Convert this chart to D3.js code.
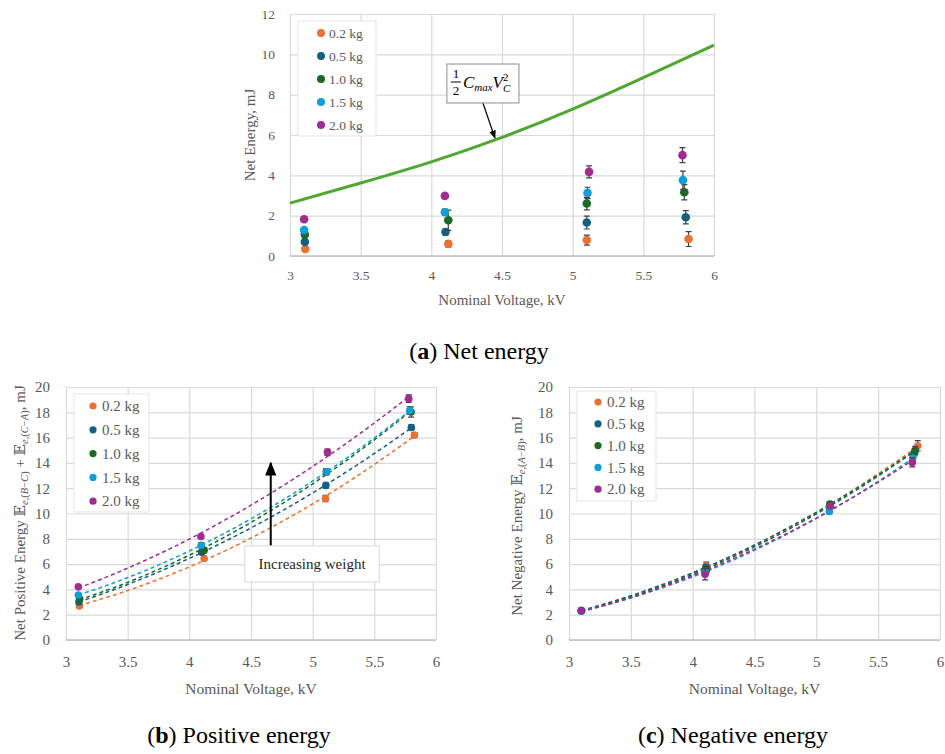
<!DOCTYPE html>
<html>
<head>
<meta charset="utf-8">
<script src="https://cdn.jsdelivr.net/npm/d3@7"></script>
<style>
body{margin:0;background:#fff}
svg text{font-family:"Liberation Serif","DejaVu Serif",serif}
</style>
</head>
<body>
<svg id="fig" width="945" height="754"></svg>
<script>
// Series names and colours (same order in every panel)
var weights = ["0.2 kg","0.5 kg","1.0 kg","1.5 kg","2.0 kg"];
var colors = ["#E97132","#156082","#196B24","#0F9ED5","#A02B93"];
var xTicks = [3,3.5,4,4.5,5,5.5,6];
var yTicksA = [0,2,4,6,8,10,12];
var yTicksBC = [0,2,4,6,8,10,12,14,16,18,20];

// (a) Net energy, one row per weight
var netV = [[3.108,4.12,5.10,5.82],[3.105,4.10,5.10,5.80],[3.105,4.12,5.10,5.79],[3.10,4.096,5.105,5.78],[3.10,4.096,5.116,5.777]];
var netE = [[0.35,0.60,0.79,0.84],[0.70,1.19,1.66,1.92],[1.06,1.77,2.60,3.16],[1.29,2.17,3.13,3.76],[1.82,2.98,4.17,5.00]];
var netErr = [[0.05,0.15,0.25,0.37],[0.05,0.15,0.32,0.33],[0.05,0.50,0.31,0.38],[0.05,0.15,0.28,0.45],[0.05,0.10,0.30,0.37]];
// 1/2 Cmax Vc^2 curve
var capV = [3,3.5,4,4.5,5,5.5,6];
var capE = [2.62,3.62,4.67,5.88,7.28,8.84,10.46];

// (b) Positive energy
var posV = [[3.108,4.12,5.104,5.825],[3.105,4.10,5.107,5.80],[3.11,4.12,5.11,5.798],[3.10,4.096,5.114,5.787],[3.10,4.094,5.12,5.779]];
var posE = [[2.69,6.44,11.19,16.2],[3.0,6.94,12.22,16.8],[3.25,7.1,13.3,18.02],[3.56,7.49,13.3,18.13],[4.2,8.18,14.85,19.08]];
var posErr = [[0.1,0.15,0.25,0.2],[0.1,0.15,0.2,0.2],[0.1,0.2,0.25,0.4],[0.1,0.2,0.2,0.3],[0.1,0.15,0.25,0.3]];

// (c) Negative energy
var negV = [[3.10,4.11,5.11,5.82],[3.10,4.107,5.11,5.80],[3.10,4.11,5.11,5.795],[3.10,4.10,5.105,5.78],[3.10,4.10,5.115,5.776]];
var negE = [[2.32,5.85,10.6,15.36],[2.32,5.75,10.7,15.0],[2.32,5.5,10.74,14.86],[2.28,5.4,10.16,14.38],[2.32,5.2,10.6,14.04]];
var negErr = [[0.1,0.3,0.2,0.4],[0.1,0.2,0.2,0.3],[0.1,0.3,0.2,0.3],[0.1,0.2,0.2,0.3],[0.1,0.45,0.2,0.35]];

var svg = d3.select("#fig");

svg.append("defs").append("marker").attr("id","arr")
	.attr("viewBox","0 0 10 10").attr("refX",9).attr("refY",5)
	.attr("markerWidth",7).attr("markerHeight",7).attr("orient","auto-start-reverse")
	.append("path").attr("d","M0,1 L10,5 L0,9 z").attr("fill","#000");

// Frame, grid and tick labels of one panel
function makePanel(p){
	var x = d3.scaleLinear().domain([3,6]).range([p.l,p.r]);
	var y = d3.scaleLinear().domain([0,p.yMax]).range([p.b,p.t]);
	var g = svg.append("g");
	var ax = g.append("g").attr("transform","translate(0,"+p.b+")")
		.call(d3.axisBottom(x).tickValues(xTicks).tickSize(-(p.b-p.t)).tickPadding(p.xPad).tickFormat(d3.format("~g")));
	var ay = g.append("g").attr("transform","translate("+p.l+",0)")
		.call(d3.axisLeft(y).tickValues(p.yTicks).tickSize(-(p.r-p.l)).tickPadding(p.yPad));
	[ax,ay].forEach(function(a){
		a.select(".domain").remove();
		a.selectAll("line").attr("stroke","#d9d9d9").attr("stroke-width",1.2);
		a.selectAll("text").attr("fill","#595959").attr("font-size",p.fs);
	});
	g.append("line").attr("x1",p.l).attr("x2",p.r).attr("y1",p.b).attr("y2",p.b)
		.attr("stroke","#bfbfbf").attr("stroke-width",1.5);
	// x title
	g.append("text").attr("x",(p.l+p.r)/2).attr("y",p.xtY).attr("text-anchor","middle")
		.attr("font-size",p.tfs).attr("fill","#595959").text("Nominal Voltage, kV");
	return {x:x, y:y, g:g};
}

// Quadratic least squares (Excel polynomial trendline)
function quadFit(xs, ys){
	var S = [0,0,0,0,0], T = [0,0,0];
	xs.forEach(function(xv,i){
		for (var k=0;k<5;k++) S[k] += Math.pow(xv,k);
		for (var k=0;k<3;k++) T[k] += Math.pow(xv,k)*ys[i];
	});
	var M = [[S[0],S[1],S[2],T[0]],[S[1],S[2],S[3],T[1]],[S[2],S[3],S[4],T[2]]];
	for (var c=0;c<3;c++){
		for (var r=c+1;r<3;r++){
			var f = M[r][c]/M[c][c];
			for (var k=c;k<4;k++) M[r][k] -= f*M[c][k];
		}
	}
	var a = [0,0,0];
	for (var r=2;r>=0;r--){
		var s = M[r][3];
		for (var k=r+1;k<3;k++) s -= M[r][k]*a[k];
		a[r] = s/M[r][r];
	}
	return function(v){ return a[0]+a[1]*v+a[2]*v*v; };
}

function drawTrends(P, vs, es){
	colors.forEach(function(c,i){
		var f = quadFit(vs[i], es[i]);
		var lo = d3.min(vs[i]), hi = d3.max(vs[i]);
		var xs = d3.range(0,41).map(function(k){ return lo+(hi-lo)*k/40; });
		P.g.append("path").datum(xs)
			.attr("d", d3.line().x(function(v){return P.x(v);}).y(function(v){return P.y(f(v));}))
			.attr("fill","none").attr("stroke",c).attr("stroke-width",1.5).attr("stroke-dasharray","4 3");
	});
}

function drawSeries(P, vs, es, errs, rad){
	colors.forEach(function(c,i){
		var pts = vs[i].map(function(v,j){ return {v:v, e:es[i][j], d:errs[i][j]}; });
		var sg = P.g.append("g");
		sg.selectAll(".eb").data(pts).enter().append("path")
			.attr("d", function(d){
				var xx = P.x(d.v), y1 = P.y(d.e-d.d), y2 = P.y(d.e+d.d);
				return "M"+xx+","+y1+"V"+y2+"M"+(xx-3)+","+y1+"H"+(xx+3)+"M"+(xx-3)+","+y2+"H"+(xx+3);
			})
			.attr("stroke","#404040").attr("stroke-width",1.2).attr("fill","none");
		sg.selectAll("circle").data(pts).enter().append("circle")
			.attr("cx",function(d){return P.x(d.v);}).attr("cy",function(d){return P.y(d.e);})
			.attr("r",rad).attr("fill",c);
	});
}

function drawLegend(L){
	var g = svg.append("g");
	g.append("rect").attr("x",L.x).attr("y",L.y).attr("width",L.w).attr("height",L.h)
		.attr("fill","#fff").attr("stroke","#e3e3e3");
	weights.forEach(function(w,i){
		var yy = L.y0 + i*L.step;
		g.append("circle").attr("cx",L.cx).attr("cy",yy).attr("r",L.r).attr("fill",colors[i]);
		g.append("text").attr("x",L.tx).attr("y",yy).attr("dy","0.35em")
			.attr("font-size",L.fs).attr("fill","#595959").text(w);
	});
}

// ---------------- (a) ----------------
var A = makePanel({l:290, r:714, t:14, b:256, yMax:12, yTicks:yTicksA, xPad:14, yPad:15, fs:13.5, tfs:15, xtY:305});
A.g.append("text").attr("transform","translate(255,135) rotate(-90)").attr("text-anchor","middle")
	.attr("font-size",15).attr("fill","#595959").text("Net Energy, mJ");
A.g.append("path").datum(capV.map(function(v,i){return [v,capE[i]];}))
	.attr("d", d3.line().x(function(d){return A.x(d[0]);}).y(function(d){return A.y(d[1]);}).curve(d3.curveNatural))
	.attr("fill","none").attr("stroke","#4EA72E").attr("stroke-width",3);
drawSeries(A, netV, netE, netErr, 4.3);
drawLegend({x:298, y:21, w:78, h:115, y0:33, step:23, cx:321, tx:329, r:4, fs:13.5});

// annotation 1/2 Cmax Vc^2
(function(){
	var bx = A.x(4.11), by = A.y(9.52), bw = A.x(4.62)-bx, bh = A.y(7.59)-by;
	A.g.append("line").attr("x1",A.x(4.365)).attr("y1",A.y(7.59)).attr("x2",A.x(4.45)).attr("y2",A.y(5.85))
		.attr("stroke","#000").attr("stroke-width",1.2).attr("marker-end","url(#arr)");
	A.g.append("rect").attr("x",bx).attr("y",by).attr("width",bw).attr("height",bh)
		.attr("fill","#fff").attr("stroke","#8c8c8c");
	var mx = bx+9, my = by+18;
	A.g.append("text").attr("x",mx).attr("y",my-4).attr("text-anchor","middle").attr("font-size",13).text("1");
	A.g.append("line").attr("x1",mx-5).attr("x2",mx+5).attr("y1",my).attr("y2",my).attr("stroke","#000");
	A.g.append("text").attr("x",mx).attr("y",my+13).attr("text-anchor","middle").attr("font-size",13).text("2");
	var t = A.g.append("text").attr("x",mx+7).attr("y",my+6).attr("font-size",17).attr("font-style","italic");
	t.append("tspan").text("C");
	t.append("tspan").attr("font-size",11).attr("dy",3).text("max");
	t.append("tspan").attr("dy",-3).text("V");
	var end = mx+7+t.node().getComputedTextLength();
	A.g.append("text").attr("x",end).attr("y",my-1).attr("font-size",11).text("2");
	A.g.append("text").attr("x",end).attr("y",my+10).attr("font-size",11).attr("font-style","italic").text("C");
})();

// ---------------- (b) ----------------
var B = makePanel({l:66, r:436, t:387, b:640, yMax:20, yTicks:yTicksBC, xPad:16, yPad:16, fs:15, tfs:15.5, xtY:694});
(function(){
	var t = B.g.append("text").attr("transform","translate(25,513) rotate(-90)").attr("text-anchor","middle")
		.attr("font-size",15).attr("fill","#595959");
	t.append("tspan").text("Net Positive Energy \uD835\uDD3C");
	t.append("tspan").attr("font-size",10.5).attr("dy",3).attr("font-style","italic").text("e");
	t.append("tspan").attr("font-size",10.5).text(",(");
	t.append("tspan").attr("font-size",10.5).attr("font-style","italic").text("B");
	t.append("tspan").attr("font-size",10.5).text("\u2212");
	t.append("tspan").attr("font-size",10.5).attr("font-style","italic").text("C");
	t.append("tspan").attr("font-size",10.5).text(")");
	t.append("tspan").attr("dy",-3).text(" + \uD835\uDD3C");
	t.append("tspan").attr("font-size",10.5).attr("dy",3).attr("font-style","italic").text("e");
	t.append("tspan").attr("font-size",10.5).text(",(");
	t.append("tspan").attr("font-size",10.5).attr("font-style","italic").text("C");
	t.append("tspan").attr("font-size",10.5).text("\u2212");
	t.append("tspan").attr("font-size",10.5).attr("font-style","italic").text("A");
	t.append("tspan").attr("font-size",10.5).text(")");
	t.append("tspan").attr("dy",-3).text(", mJ");
})();
drawTrends(B, posV, posE);
drawSeries(B, posV, posE, posErr, 3.8);
drawLegend({x:74, y:394, w:75, h:118, y0:406, step:23.8, cx:93, tx:102, r:3.6, fs:15});
// Increasing weight annotation
B.g.append("line").attr("x1",B.x(4.66)).attr("x2",B.x(4.66)).attr("y1",B.y(7.44)).attr("y2",B.y(14.0))
	.attr("stroke","#000").attr("stroke-width",2).attr("marker-end","url(#arr)");
B.g.append("rect").attr("x",B.x(4.45)).attr("y",B.y(7.44)).attr("width",B.x(5.54)-B.x(4.45)).attr("height",B.y(4.59)-B.y(7.44))
	.attr("fill","#fff").attr("stroke","#d9d9d9");
B.g.append("text").attr("x",(B.x(4.45)+B.x(5.54))/2).attr("y",(B.y(7.44)+B.y(4.59))/2).attr("dy","0.35em")
	.attr("text-anchor","middle").attr("font-size",15).attr("fill","#262626").text("Increasing weight");

// ---------------- (c) ----------------
var C = makePanel({l:569, r:940, t:387, b:640, yMax:20, yTicks:yTicksBC, xPad:16, yPad:16, fs:15, tfs:15.5, xtY:694});
(function(){
	var t = C.g.append("text").attr("transform","translate(522,516) rotate(-90)").attr("text-anchor","middle")
		.attr("font-size",15).attr("fill","#595959");
	t.append("tspan").text("Net Negative Energy \uD835\uDD3C");
	t.append("tspan").attr("font-size",10.5).attr("dy",3).attr("font-style","italic").text("e");
	t.append("tspan").attr("font-size",10.5).text(",(");
	t.append("tspan").attr("font-size",10.5).attr("font-style","italic").text("A");
	t.append("tspan").attr("font-size",10.5).text("\u2212");
	t.append("tspan").attr("font-size",10.5).attr("font-style","italic").text("B");
	t.append("tspan").attr("font-size",10.5).text(")");
	t.append("tspan").attr("dy",-3).text(", mJ");
})();
drawTrends(C, negV, negE);
drawSeries(C, negV, negE, negErr, 3.8);
drawLegend({x:577, y:391, w:79, h:110, y0:402, step:21.8, cx:598, tx:607, r:3.6, fs:15});

// captions
function caption(cx, cy, letter, rest){
	var t = svg.append("text").attr("x",cx).attr("y",cy).attr("text-anchor","middle")
		.attr("font-size",24).attr("fill","#000");
	t.append("tspan").text("(");
	t.append("tspan").attr("font-weight","bold").text(letter);
	t.append("tspan").text(") "+rest);
}
caption(479, 359, "a", "Net energy");
caption(239, 743, "b", "Positive energy");
caption(733, 743, "c", "Negative energy");
</script>
</body>
</html>
